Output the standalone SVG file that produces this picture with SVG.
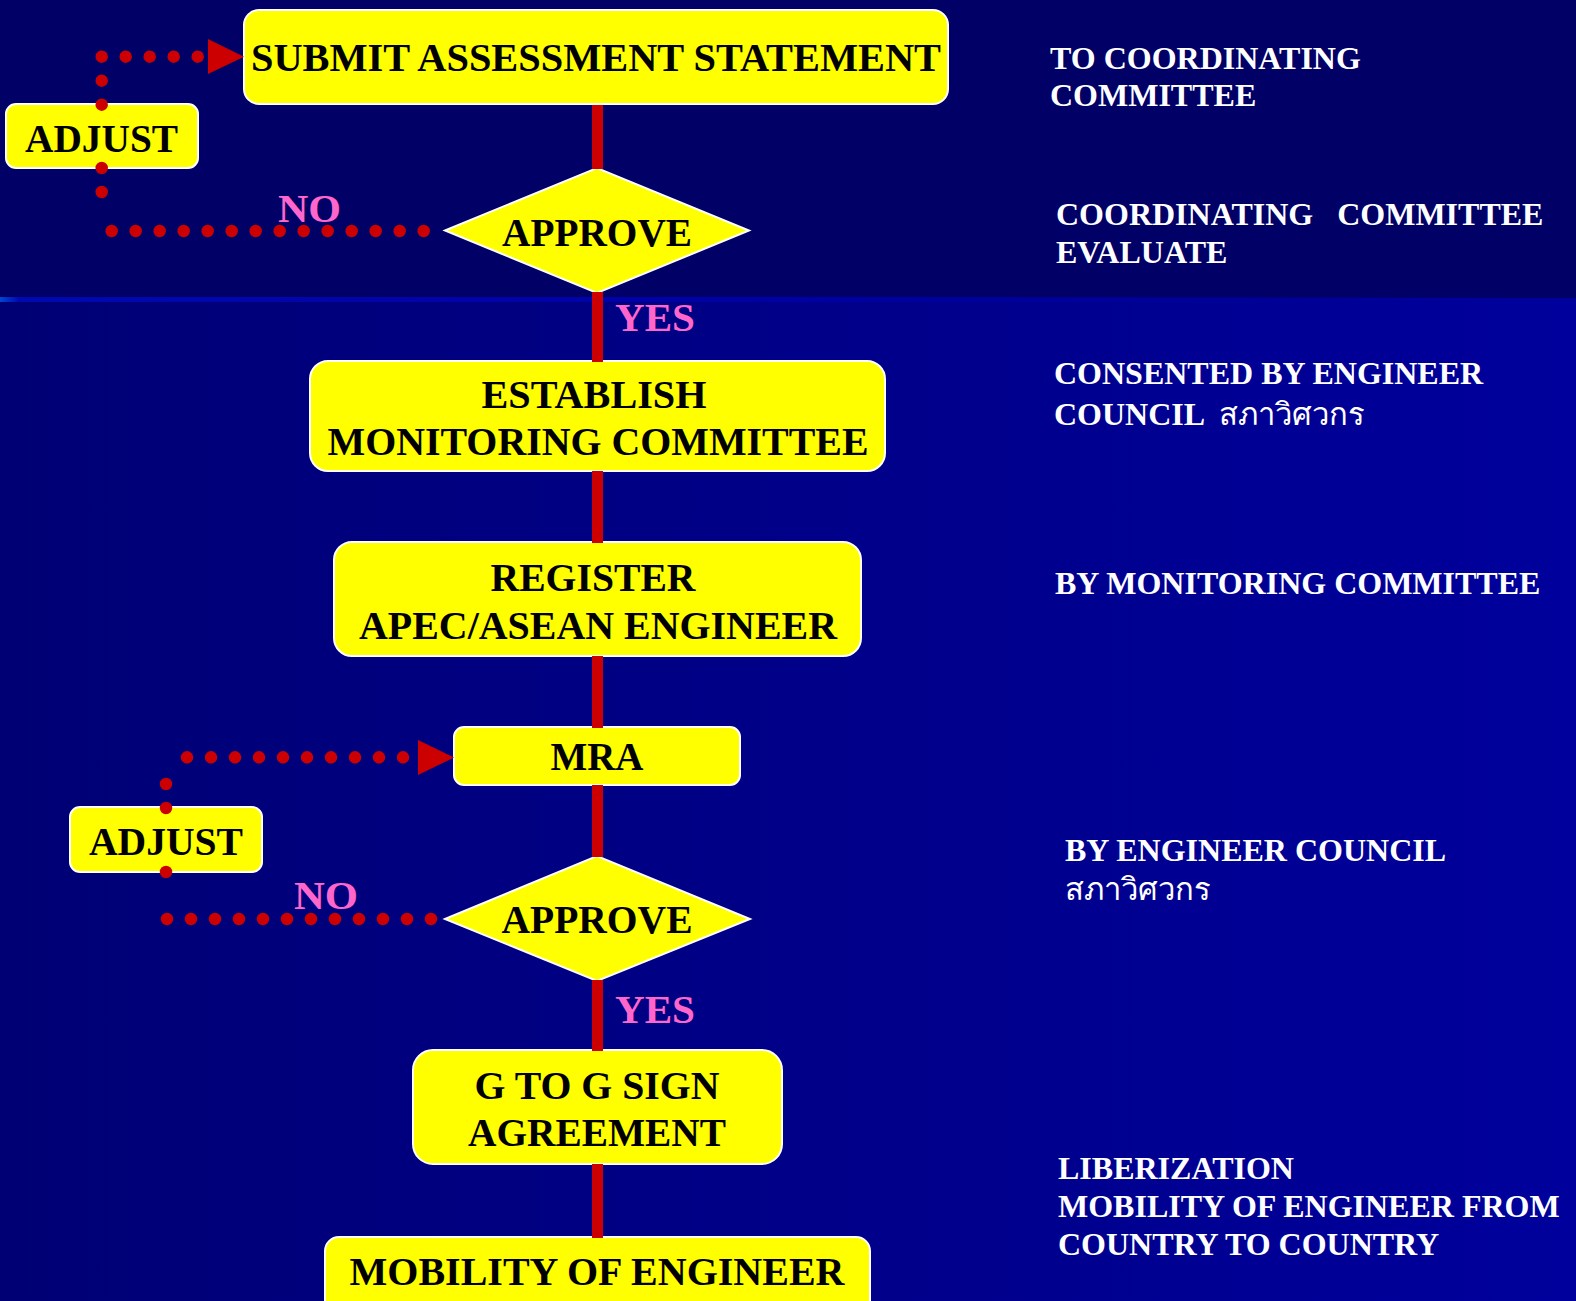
<svg xmlns="http://www.w3.org/2000/svg" width="1576" height="1301" viewBox="0 0 1576 1301">
<defs>
<linearGradient id="bgLow" x1="0" y1="0" x2="1" y2="0">
<stop offset="0" stop-color="#000074"/>
<stop offset="1" stop-color="#00009C"/>
</linearGradient>
<linearGradient id="stripe" x1="0" y1="0" x2="1" y2="0">
<stop offset="0" stop-color="#0048D0"/>
<stop offset="0.012" stop-color="#0008B0"/>
<stop offset="0.5" stop-color="#0000A4"/>
<stop offset="1" stop-color="#0000A0" stop-opacity="0"/>
</linearGradient>
<style>
.box{fill:#FFFF00;stroke:#FFFFFF;stroke-width:2}
.t{font-family:"Liberation Serif","Times New Roman",serif;font-weight:bold;font-size:40px;fill:#000000;text-anchor:middle}
.lbl{font-family:"Liberation Serif","Times New Roman",serif;font-weight:bold;font-size:41px;fill:#FF66CC}
.note{font-family:"Liberation Serif","Times New Roman","DejaVu Sans","Noto Sans",sans-serif;font-weight:bold;font-size:32px;fill:#FFFFFF}
.thai{font-family:"DejaVu Sans","Noto Sans",sans-serif;font-weight:normal;font-size:31px;fill:#FFFFFF}
.main{fill:#CC0000}
.dots{fill:none;stroke:#CC0000;stroke-width:12.5;stroke-linecap:round;stroke-dasharray:0 24}
.head{fill:#CC0000}
</style>
</defs>
<rect x="0" y="0" width="1576" height="1301" fill="url(#bgLow)"/>
<rect x="0" y="0" width="1576" height="298" fill="#000066"/>
<rect x="0" y="297" width="1576" height="5" fill="url(#stripe)"/>

<g id="submit">
<rect class="box" x="244" y="10" width="704" height="94" rx="15"/>
<text class="t" x="596" y="71" font-size="42" textLength="690" lengthAdjust="spacingAndGlyphs">SUBMIT ASSESSMENT STATEMENT</text>
</g>
<g id="adjust1">
<rect class="box" x="6" y="104" width="192" height="64" rx="10"/>
<text class="t" x="101.5" y="152" font-size="42" textLength="153" lengthAdjust="spacingAndGlyphs">ADJUST</text>
</g>
<g id="approve1">
<polygon class="box" points="445,230.5 597,168 749,230.5 597,293"/>
<text class="t" x="597" y="246" font-size="41" textLength="190" lengthAdjust="spacingAndGlyphs">APPROVE</text>
</g>
<g id="establish">
<rect class="box" x="310" y="361" width="575" height="110" rx="18"/>
<text class="t" x="594" y="408" textLength="225" lengthAdjust="spacingAndGlyphs">ESTABLISH</text>
<text class="t" x="598" y="455" textLength="541" lengthAdjust="spacingAndGlyphs">MONITORING COMMITTEE</text>
</g>
<g id="register">
<rect class="box" x="334" y="542" width="527" height="114" rx="18"/>
<text class="t" x="593" y="591" textLength="205" lengthAdjust="spacingAndGlyphs">REGISTER</text>
<text class="t" x="598" y="639" textLength="478" lengthAdjust="spacingAndGlyphs">APEC/ASEAN ENGINEER</text>
</g>
<g id="mra">
<rect class="box" x="454" y="727" width="286" height="58" rx="10"/>
<text class="t" x="597" y="770" textLength="93" lengthAdjust="spacingAndGlyphs">MRA</text>
</g>
<g id="adjust2">
<rect class="box" x="70" y="807" width="192" height="65" rx="10"/>
<text class="t" x="166" y="855" font-size="42" textLength="154" lengthAdjust="spacingAndGlyphs">ADJUST</text>
</g>
<g id="approve2">
<polygon class="box" points="445,919 597,856 750,919 597,981"/>
<text class="t" x="597" y="933" font-size="41" textLength="191" lengthAdjust="spacingAndGlyphs">APPROVE</text>
</g>
<g id="gtog">
<rect class="box" x="413" y="1050" width="369" height="114" rx="20"/>
<text class="t" x="597" y="1099" textLength="245" lengthAdjust="spacingAndGlyphs">G TO G SIGN</text>
<text class="t" x="597" y="1146" textLength="258" lengthAdjust="spacingAndGlyphs">AGREEMENT</text>
</g>
<g id="mobility">
<rect class="box" x="325" y="1237" width="545" height="90" rx="14"/>
<text class="t" x="597" y="1285" textLength="495" lengthAdjust="spacingAndGlyphs">MOBILITY OF ENGINEER</text>
</g>

<g id="connectors">
<rect class="main" x="592" y="105" width="11" height="64"/>
<rect class="main" x="592" y="292" width="11" height="70"/>
<rect class="main" x="592" y="471" width="11" height="72"/>
<rect class="main" x="592" y="656" width="11" height="72"/>
<rect class="main" x="592" y="785" width="11" height="72"/>
<rect class="main" x="592" y="980" width="11" height="71"/>
<rect class="main" x="592" y="1164" width="11" height="74"/>
<path class="dots" d="M101.7,104.7 V56.7 H198"/>
<polygon class="head" points="208,39 244,56.7 208,74"/>
<path class="dots" d="M101.7,168 V216"/>
<path class="dots" d="M111.7,231 H424"/>
<path class="dots" d="M166,808 V760"/>
<path class="dots" d="M187,757.3 H404"/>
<polygon class="head" points="418,740 454,757.5 418,775"/>
<path class="dots" d="M166,872 V896"/>
<path class="dots" d="M167,919 H432"/>
<text class="lbl" x="278" y="222" textLength="63" lengthAdjust="spacingAndGlyphs">NO</text>
<text class="lbl" x="615" y="331" textLength="80" lengthAdjust="spacingAndGlyphs">YES</text>
<text class="lbl" x="294" y="909" textLength="64" lengthAdjust="spacingAndGlyphs">NO</text>
<text class="lbl" x="615" y="1023" textLength="80" lengthAdjust="spacingAndGlyphs">YES</text>
</g>

<g id="notes">
<text class="note" x="1050" y="69">TO COORDINATING</text>
<text class="note" x="1050" y="106">COMMITTEE</text>
<text class="note" x="1056" y="225" xml:space="preserve">COORDINATING   COMMITTEE</text>
<text class="note" x="1056" y="263">EVALUATE</text>
<text class="note" x="1054" y="384">CONSENTED BY ENGINEER</text>
<text class="note" x="1054" y="425">COUNCIL</text>
<text class="thai" x="1219" y="425">สภาวิศวกร</text>
<text class="note" x="1055" y="594">BY MONITORING COMMITTEE</text>
<text class="note" x="1065" y="861">BY ENGINEER COUNCIL</text>
<text class="thai" x="1065" y="900">สภาวิศวกร</text>
<text class="note" x="1058" y="1179">LIBERIZATION</text>
<text class="note" x="1058" y="1217">MOBILITY OF ENGINEER FROM</text>
<text class="note" x="1058" y="1255">COUNTRY TO COUNTRY</text>
</g>
</svg>
